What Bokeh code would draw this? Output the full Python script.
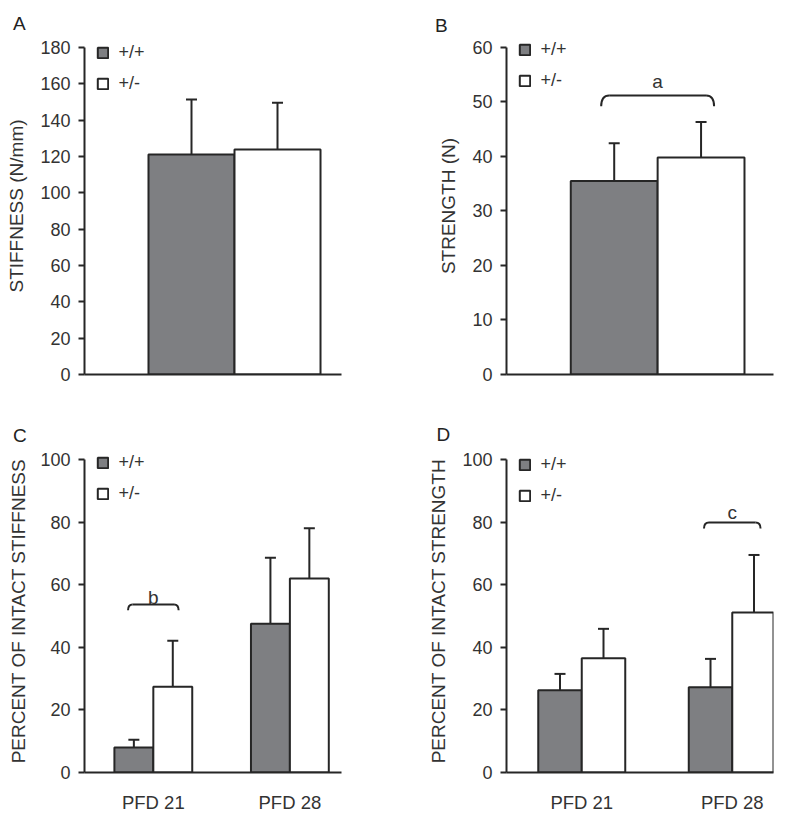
from bokeh.plotting import figure
from bokeh.layouts import gridplot
from bokeh.models import (ColumnDataSource, Whisker, TeeHead, FixedTicker, Legend,
                          LegendItem, Range1d)
from bokeh.embed import file_html
from bokeh.resources import INLINE
from bokeh.core.properties import value

# ---------------- data ----------------
genotypes = ["+/+", "+/-"]
timepoints = ["PFD 21", "PFD 28"]

# Panel A: stiffness (N/mm)
stiff_wt_mean = [121.1]
stiff_wt_sd = [30.3]
stiff_het_mean = [123.8]
stiff_het_sd = [25.8]
stiff_ticks = [0, 20, 40, 60, 80, 100, 120, 140, 160, 180]

# Panel B: strength (N)
str_wt_mean = [35.5]
str_wt_sd = [6.9]
str_het_mean = [39.8]
str_het_sd = [6.5]
str_ticks = [0, 10, 20, 30, 40, 50, 60]

# Panel C: percent of intact stiffness
pstiff_wt_mean = [8.0, 47.5]
pstiff_wt_sd = [2.5, 21.1]
pstiff_het_mean = [27.4, 62.0]
pstiff_het_sd = [14.7, 16.0]

# Panel D: percent of intact strength
pstr_wt_mean = [26.3, 27.2]
pstr_wt_sd = [5.2, 9.1]
pstr_het_mean = [36.5, 51.1]
pstr_het_sd = [9.4, 18.4]
pct_ticks = [0, 20, 40, 60, 80, 100]

# significance brackets: (group index, bracket y, letter y, letter)
sig_B = [(0, 51.2, 53.7, "a")]
sig_C = [(0, 53.7, 56.0, "b")]
sig_D = [(1, 79.9, 83.1, "c")]

# ---------------- style ----------------
FONT = "Liberation Sans"
GRAY = "#7e7f82"
DARK = "#262626"
TXT = "#333333"
TOP_PAD = 10  # px of extra frame above the axis top, room for the legend


def panel(letter, ylabel, ymax, ticks, groups, wt_mean, wt_sd, het_mean, het_sd, sigs,
          width, height, borders, xr, bw, bracket_drop, bracket_r, letter_off, letter_gap,
          label_standoff):
    bl, br, bt, bb = borders
    fw = width - bl - br
    fh = height - bt - bb
    ytop = ymax * fh / (fh - TOP_PAD)
    p = figure(width=width, height=height, output_backend="svg", toolbar_location=None,
               x_range=Range1d(*xr), y_range=Range1d(0, ytop),
               min_border_left=bl, min_border_right=br, min_border_top=bt,
               min_border_bottom=bb)
    p.outline_line_color = None
    p.xgrid.visible = False
    p.ygrid.visible = False
    p.background_fill_color = "white"
    p.border_fill_color = "white"

    n = len(wt_mean)
    centers = [i + 1 for i in range(n)] if groups else [0]
    xw = [c - bw / 2 for c in centers]
    xh = [c + bw / 2 for c in centers]
    src_w = ColumnDataSource(dict(x=xw, top=wt_mean, up=[m + s for m, s in zip(wt_mean, wt_sd)]))
    src_h = ColumnDataSource(dict(x=xh, top=het_mean, up=[m + s for m, s in zip(het_mean, het_sd)]))

    for src in (src_w, src_h):
        wk = Whisker(source=src, base="x", lower="top", upper="up",
                     line_color=DARK, line_width=2, lower_head=None,
                     upper_head=TeeHead(size=11, line_color=DARK, line_width=2))
        p.add_layout(wk)

    rw = p.vbar(x="x", top="top", bottom=0, width=bw, source=src_w,
                fill_color=GRAY, line_color=DARK, line_width=2)
    rh = p.vbar(x="x", top="top", bottom=0, width=bw, source=src_h,
                fill_color="white", line_color=DARK, line_width=2)

    dy = bracket_drop * ytop / fh
    rx = bracket_r * (xr[1] - xr[0]) / fw
    for gi, by, ly, txt in sigs:
        c = centers[gi]
        x1 = c - 0.65 * bw
        x2 = c + 0.65 * bw
        p.quadratic(x0=[x1], y0=[by - dy], x1=[x1 + rx], y1=[by], cx=[x1], cy=[by],
                    line_color=DARK, line_width=2)
        p.segment(x0=[x1 + rx], y0=[by], x1=[x2 - rx], y1=[by], line_color=DARK, line_width=2)
        p.quadratic(x0=[x2 - rx], y0=[by], x1=[x2], y1=[by - dy], cx=[x2], cy=[by],
                    line_color=DARK, line_width=2)
        p.text(x=[c], y=[ly], text=[txt], text_align="center", text_baseline="alphabetic",
               text_font=value(FONT), text_font_size="19px", text_color=TXT)

    # y axis
    ya = p.yaxis[0]
    ya.ticker = FixedTicker(ticks=ticks)
    ya.bounds = (0, ymax)
    ya.minor_tick_line_color = None
    ya.major_tick_in = 0
    ya.major_tick_out = 6
    ya.major_tick_line_width = 2
    ya.major_tick_line_color = DARK
    ya.axis_line_width = 2
    ya.axis_line_color = DARK
    ya.major_label_text_font = FONT
    ya.major_label_text_font_size = "18px"
    ya.major_label_text_color = TXT
    ya.major_label_standoff = 8
    ya.axis_label = ylabel
    ya.axis_label_text_font = FONT
    ya.axis_label_text_font_size = "19px"
    ya.axis_label_text_font_style = "normal"
    ya.axis_label_text_color = TXT
    ya.axis_label_standoff = label_standoff

    # x axis
    xa = p.xaxis[0]
    xa.minor_tick_line_color = None
    xa.major_tick_in = 0
    xa.major_tick_out = 0
    xa.axis_line_width = 2
    xa.axis_line_color = DARK
    if groups:
        xa.ticker = FixedTicker(ticks=centers)
        xa.major_label_overrides = {c: g for c, g in zip(centers, groups)}
        xa.major_label_text_font = FONT
        xa.major_label_text_font_size = "18.5px"
        xa.major_label_text_color = TXT
        xa.major_label_standoff = 19
    else:
        xa.ticker = FixedTicker(ticks=[])
        xa.major_label_text_font_size = "0px"

    # legend
    leg_h = 21 * 2 + 10
    legend = Legend(items=[LegendItem(label=genotypes[0], renderers=[rw]),
                           LegendItem(label=genotypes[1], renderers=[rh])],
                    location=(11.5, fh - (TOP_PAD - 5.5) - leg_h), orientation="vertical",
                    glyph_width=13, glyph_height=13, label_standoff=10, spacing=10,
                    padding=0, margin=0, border_line_color=None, background_fill_alpha=0,
                    label_text_font=FONT, label_text_font_size="18px",
                    label_text_color=TXT, label_height=21)
    p.add_layout(legend)

    # panel letter as a left-aligned title
    p.title.text = letter
    p.title.align = "left"
    p.title.offset = letter_off
    p.title.standoff = letter_gap
    p.title.text_font = FONT
    p.title.text_font_size = "19px"
    p.title.text_font_style = "normal"
    p.title.text_color = "#222222"
    return p


pA = panel("A", "STIFFNESS (N/mm)", 180, stiff_ticks, None,
           stiff_wt_mean, stiff_wt_sd, stiff_het_mean, stiff_het_sd, [],
           400, 402, (84, 59, 37, 28), (-0.872, 0.622), 0.5, 11, 8, -71.5, 7, 10)
pB = panel("B", "STRENGTH (N)", 60, str_ticks, None,
           str_wt_mean, str_wt_sd, str_het_mean, str_het_sd, sig_B,
           400, 402, (106, 27, 34, 28), (-0.870, 0.667), 0.5, 11, 8, -71.5, 4, 10)
pC = panel("C", "PERCENT OF INTACT STIFFNESS", 100, pct_ticks, timepoints,
           pstiff_wt_mean, pstiff_wt_sd, pstiff_het_mean, pstiff_het_sd, sig_C,
           400, 415, (84, 32, 45, 45), (0.496, 2.378), 0.285, 6, 5, -71.5, 8, 8)
pD = panel("D", "PERCENT OF INTACT STRENGTH", 100, pct_ticks, timepoints,
           pstr_wt_mean, pstr_wt_sd, pstr_het_mean, pstr_het_sd, sig_D,
           400, 415, (106, 27, 47, 45), (0.5, 2.274), 0.289, 6, 5, -70, 10, 10)

grid = gridplot([[pA, pB], [pC, pD]], toolbar_location=None)

open("out.html", "w").write(file_html(grid, INLINE))
